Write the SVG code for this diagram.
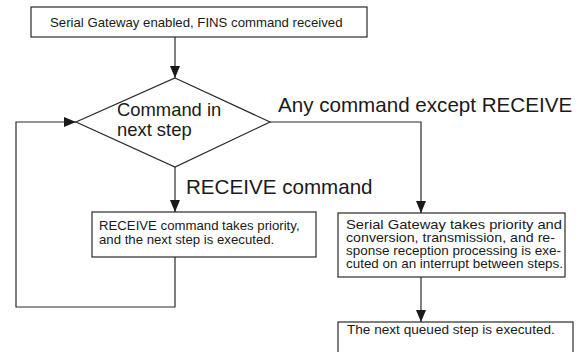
<svg xmlns="http://www.w3.org/2000/svg" width="581" height="352" viewBox="0 0 581 352">
<style>
.box{fill:#fff;stroke:#2a2a2a;stroke-width:1.2}
.ln{fill:none;stroke:#2a2a2a;stroke-width:1.2}
.t{font-family:"Liberation Sans",Arial,sans-serif;fill:#1a1a1a}
.s{font-size:13.2px}
.r{font-size:12.6px}
.m{font-size:18.4px}
.l{font-size:20.6px}
</style>
<defs>
<marker id="ah" viewBox="0 0 12 10" refX="12" refY="5" markerWidth="12" markerHeight="10" markerUnits="userSpaceOnUse" orient="auto">
<path d="M0,0 L12,5 L0,10 Z" fill="#1a1a1a"/>
</marker>
</defs>
<rect width="581" height="352" fill="#fff"/>
<g id="connectors">
<path class="ln" d="M175,37 V78" marker-end="url(#ah)"/>
<path class="ln" d="M175,167 V212" marker-end="url(#ah)"/>
<path class="ln" d="M270,122 H421 V213" marker-end="url(#ah)"/>
<path class="ln" d="M175,257 V307 H16 V122 H76" marker-end="url(#ah)"/>
<path class="ln" d="M421,277 V322" marker-end="url(#ah)"/>
<text class="t l" x="278" y="111.5">Any command except RECEIVE</text>
<text class="t l" x="186" y="194">RECEIVE command</text>
</g>
<g id="start">
<rect class="box" x="31" y="7" width="336" height="30"/>
<text class="t s" x="50" y="26.5">Serial Gateway enabled, FINS command received</text>
</g>
<g id="decision">
<polygon class="box" points="175,78 270,122 175,167 76,122"/>
<text class="t m" x="117" y="115.5">Command in</text>
<text class="t m" x="117" y="135.5">next step</text>
</g>
<g id="receive">
<rect class="box" x="92" y="212" width="224" height="45"/>
<text class="t s" x="99" y="229.5">RECEIVE command takes priority,</text>
<text class="t s" x="99" y="244">and the next step is executed.</text>
</g>
<g id="gateway">
<rect class="box" x="338" y="213" width="227" height="64"/>
<text class="t r" x="346" y="228.8" textLength="216" lengthAdjust="spacingAndGlyphs">Serial Gateway takes priority and</text>
<text class="t r" x="346" y="242" textLength="209" lengthAdjust="spacingAndGlyphs">conversion, transmission, and re-</text>
<text class="t r" x="346" y="255.2" textLength="215" lengthAdjust="spacingAndGlyphs">sponse reception processing is exe-</text>
<text class="t r" x="346" y="268.4" textLength="217" lengthAdjust="spacingAndGlyphs">cuted on an interrupt between steps.</text>
</g>
<g id="next">
<rect class="box" x="338" y="322" width="235" height="40"/>
<text class="t s" x="347" y="333.5" style="font-size:13.6px">The next queued step is executed.</text>
</g>
</svg>
